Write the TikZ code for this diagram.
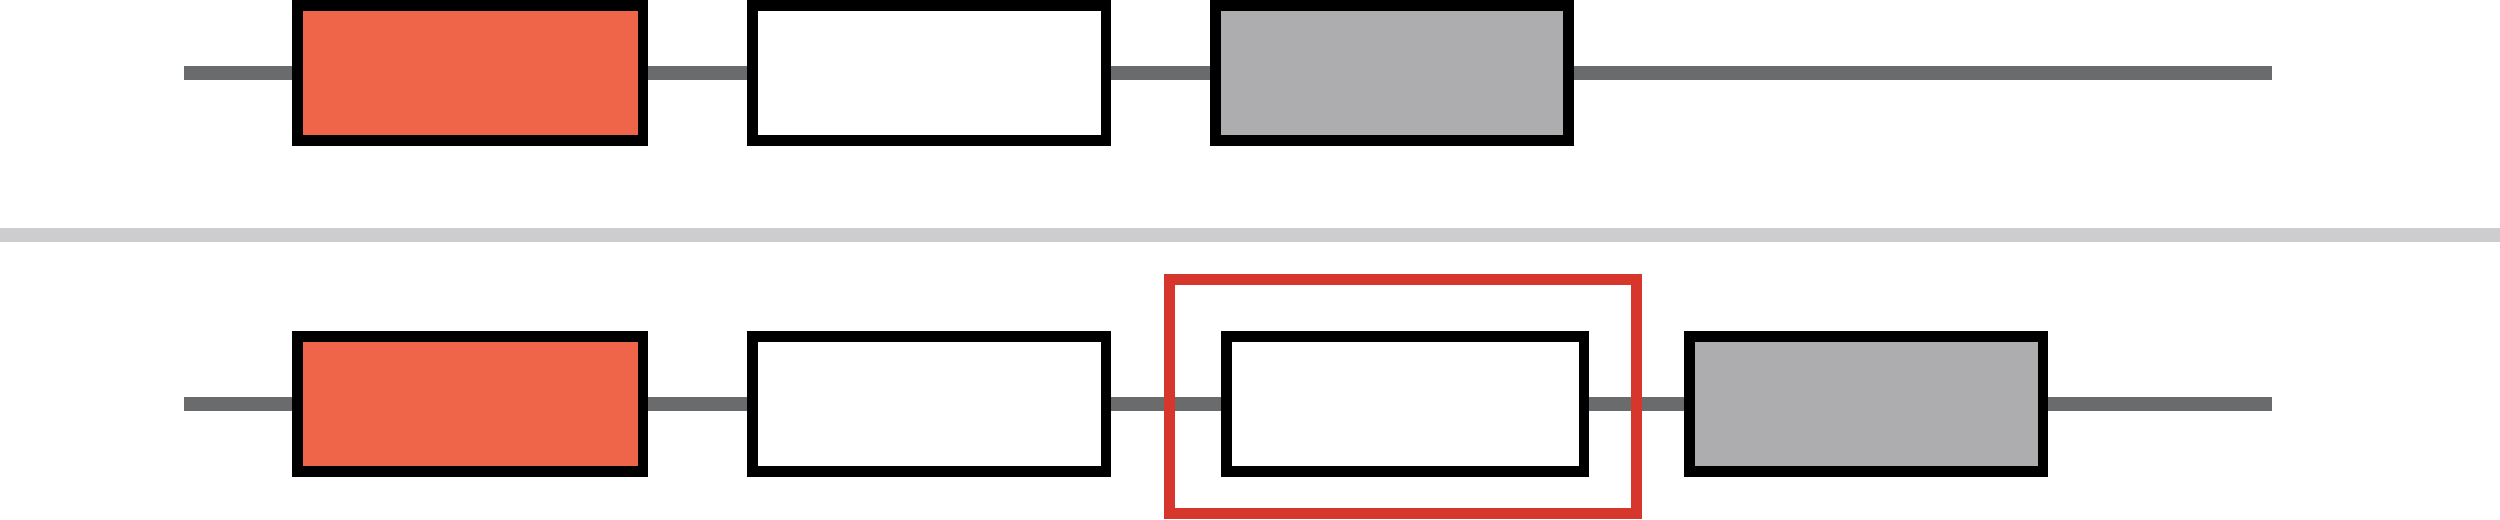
\documentclass[tikz,border=0pt]{standalone}
\usepackage{color}
\usepackage{xcolor}
\usepackage{tikz}
\usetikzlibrary{positioning}

\definecolor{exonred}{RGB}{238,101,73}
\definecolor{exongray}{RGB}{173,173,175}
\definecolor{introngray}{RGB}{106,107,108}
\definecolor{splitgray}{RGB}{205,205,207}
\definecolor{marked}{RGB}{215,54,45}

\begin{document}
\begin{tikzpicture}[x=0.1mm, y=-0.1mm,
	exon/.style={rectangle, draw=black, line width=1.05mm, inner sep=0, minimum height=13.5mm},
	intron/.style={draw=introngray, line width=1.47mm}]
	\useasboundingbox (0,0) rectangle (2500,519);
	\draw[splitgray, line width=1.47mm] (0,235) -- (2500,235);
	% top row
	\foreach \x/\w/\c/\n in {470.15/345.8/exonred/1,929.15/353.2/white/2,1391.85/353.2/exongray/3} {
		\node[exon, fill=\c, minimum width=\w*0.1mm] at(\x, 73) (a\n) {};
	};
	% bottom row
	\foreach \x/\w/\c/\n in {470.15/345.8/exonred/1,929.15/353.2/white/2,1405.15/357.2/white/3,1866.15/353.8/exongray/4} {
		\node[exon, fill=\c, minimum width=\w*0.1mm] at(\x, 404) (b\n) {};
	};
	\coordinate (a0) at (184.3, 73);
	\coordinate (a4) at (2272, 73);
	\coordinate (b0) at (184.3, 404);
	\coordinate (b5) at (2272, 404);
	\path[intron]
		(a0) edge (a1) (a1) edge (a2) (a2) edge (a3) (a3) edge (a4)
		(b0) edge (b1) (b1) edge (b2) (b2) edge (b3) (b3) edge (b4) (b4) edge (b5);
	\node[rectangle, draw=marked, line width=1.07mm, inner sep=0, minimum width=46.68mm, minimum height=23.41mm] at(1403, 396.65) (hl) {};
\end{tikzpicture}
\end{document}
